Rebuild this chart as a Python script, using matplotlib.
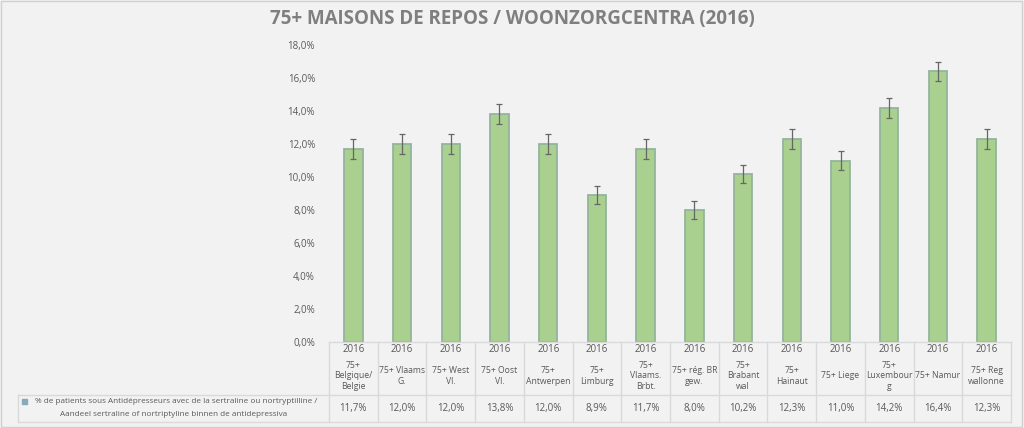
import matplotlib
matplotlib.use("Agg")
import matplotlib.pyplot as plt
from matplotlib.transforms import blended_transform_factory
from matplotlib.lines import Line2D
from matplotlib.patches import Rectangle

plt.rcParams['font.family'] = ['Open Sans', 'DejaVu Sans']

years = ["2016"] * 14
categories = ["75+\nBelgique/\nBelgie", "75+ Vlaams\nG.", "75+ West\nVl.", "75+ Oost\nVl.",
              "75+\nAntwerpen", "75+\nLimburg", "75+\nVlaams.\nBrbt.", "75+ rég. BR\ngew.",
              "75+\nBrabant\nwal", "75+\nHainaut", "75+ Liege", "75+\nLuxembour\ng",
              "75+ Namur", "75+ Reg\nwallonne"]
values = [11.7, 12.0, 12.0, 13.8, 12.0, 8.9, 11.7, 8.0, 10.2, 12.3, 11.0, 14.2, 16.4, 12.3]
value_labels = ["11,7%", "12,0%", "12,0%", "13,8%", "12,0%", "8,9%", "11,7%", "8,0%",
                "10,2%", "12,3%", "11,0%", "14,2%", "16,4%", "12,3%"]
errors = [0.6, 0.6, 0.6, 0.6, 0.6, 0.55, 0.6, 0.55, 0.55, 0.6, 0.55, 0.6, 0.58, 0.58]
yticks = [0, 2, 4, 6, 8, 10, 12, 14, 16, 18]
title = "75+ MAISONS DE REPOS / WOONZORGCENTRA (2016)"
legend_line1 = "% de patients sous Antidépresseurs avec de la sertraline ou nortryptilline /"
legend_line2 = "Aandeel sertraline of nortriptyline binnen de antidepressiva"

W, H = 1024, 428
bg = '#F2F2F2'
grid_c = '#D9D9D9'
txt_c = '#595959'

fig = plt.figure(figsize=(W / 100, H / 100), dpi=100, facecolor=bg)

def fx(px):
    return px / W

def fy(py):
    return 1 - py / H

x0, x1 = 329, 1011
y_top, y_bot = 45, 342
ax = fig.add_axes([fx(x0), fy(y_bot), fx(x1) - fx(x0), fy(y_top) - fy(y_bot)])
ax.set_facecolor(bg)
n = len(values)
xs = list(range(n))
ax.bar(xs, values, width=0.38, color='#A9D08E', edgecolor='#93B49C', linewidth=1.3, zorder=2)
ax.errorbar(xs, values, yerr=errors, fmt='none', ecolor='#666666', elinewidth=0.9,
            capsize=2.5, capthick=0.9, zorder=3)
ax.set_xlim(-0.5, n - 0.5)
ax.set_ylim(0, 18)
ax.set_yticks(yticks)
ax.set_yticklabels([f"{v:.1f}%".replace('.', ',') for v in yticks], fontsize=7, color=txt_c)
ax.tick_params(axis='y', length=0, pad=10)
ax.set_xticks([])
for s in ax.spines.values():
    s.set_visible(False)

# Table drawn in figure coordinates (columns aligned to data x)
tr = blended_transform_factory(ax.transData, fig.transFigure)
row_year = 350
row_cat = 376
row_line = 395
row_val = 409
row_bot = 422

fig.add_artist(Line2D([fx(x0), fx(x1)], [fy(y_bot), fy(y_bot)], color=grid_c, lw=1))
fig.add_artist(Line2D([fx(18), fx(x1)], [fy(row_line), fy(row_line)], color=grid_c, lw=1))
fig.add_artist(Line2D([fx(18), fx(x1)], [fy(row_bot), fy(row_bot)], color=grid_c, lw=1))
fig.add_artist(Line2D([fx(18), fx(18)], [fy(row_line), fy(row_bot)], color=grid_c, lw=1))
for i in range(n + 1):
    xb = i - 0.5
    fig.add_artist(Line2D([xb, xb], [fy(y_bot), fy(row_bot)], color=grid_c, lw=1, transform=tr))

for i in range(n):
    fig.text(i, fy(row_year), years[i], transform=tr, ha='center', va='center', fontsize=7, color=txt_c)
    fig.text(i, fy(row_cat), categories[i], transform=tr, ha='center', va='center', fontsize=6.2,
             color=txt_c, linespacing=1.25)
    fig.text(i, fy(row_val), value_labels[i], transform=tr, ha='center', va='center', fontsize=7, color=txt_c)

cx = fx((18 + x0) / 2)
fig.text(fx(176), fy(401.5), legend_line1, ha='center', va='center', fontsize=5.9, color=txt_c)
fig.text(fx(174), fy(414), legend_line2, ha='center', va='center', fontsize=5.9, color=txt_c)
fig.add_artist(Rectangle((fx(22), fy(404)), fx(5), fy(399) - fy(404), color='#87A9BA'))

fig.text(0.5, fy(19), title, ha='center', va='center', fontsize=13.5, fontweight='bold',
         color='#7F7F7F', family=['Open Sans', 'DejaVu Sans'])

# Outer border
fig.add_artist(Rectangle((0.001, 0.002), 0.997, 0.995, fill=False, edgecolor='#D0D0D0', lw=1))

fig.savefig('out.png', dpi=100, facecolor=bg)
